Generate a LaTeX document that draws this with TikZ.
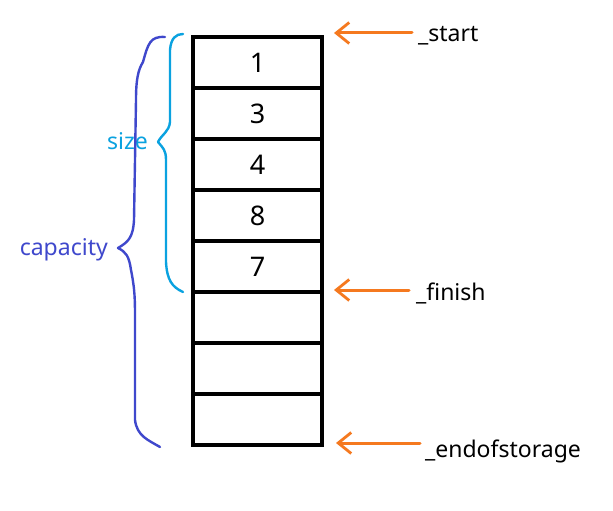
\documentclass[tikz,border=0pt]{standalone}
\usepackage{fontspec}
\setmainfont{Noto Sans}
\usetikzlibrary{arrows.meta}
\definecolor{arrorange}{HTML}{F5791F}
\definecolor{sizeblue}{HTML}{0AA2E0}
\definecolor{capblue}{HTML}{3F48CC}
\begin{document}
\begin{tikzpicture}[x=1pt,y=-1pt,
  cellbox/.style={draw=black,line width=4pt,minimum width=129pt,minimum height=51pt,inner sep=0pt,outer sep=0pt,anchor=north west,font=\fontsize{27}{30}\selectfont},
  ptrarrow/.style={draw=arrorange,line width=3pt,line cap=round,-{Straight Barb[length=13pt,width=21pt,line width=2.8pt]}},
  ptrlabel/.style={anchor=west,inner sep=0pt,font=\fontsize{23}{26}\selectfont},
  bracelabel/.style={anchor=east,inner sep=0pt,font=\fontsize{23}{26}\selectfont}]
\useasboundingbox (0,0) rectangle (613,511);
\fill[white] (0,0) rectangle (613,511);
% cells
\node[cellbox] (c1) at (193,37) {1};
\node[cellbox] (c2) at (193,88) {3};
\node[cellbox] (c3) at (193,139) {4};
\node[cellbox] (c4) at (193,190) {8};
\node[cellbox] (c5) at (193,241) {7};
\node[cellbox] (c6) at (193,292) {};
\node[cellbox] (c7) at (193,343) {};
\node[cellbox] (c8) at (193,394) {};
% pointer labels
\node[ptrlabel] (ls) at (418,36) {\_start};
\node[ptrlabel] (lf) at (416,293) {\_finish};
\node[ptrlabel] (le) at (425,451) {\_endofstorage};
\coordinate (ts) at (334,33);
\coordinate (tf) at (334,290);
\coordinate (te) at (336,443);
\draw[ptrarrow] (ls.west |- ts) ++(-6,0) -- (ts);
\draw[ptrarrow] (lf.west |- tf) ++(-7,0) -- (tf);
\draw[ptrarrow] (le.west |- te) ++(-5,0) -- (te);
% size brace
\draw[sizeblue,line width=2.4pt,line cap=round,line join=round]
  (183,34) .. controls (176,34) and (171,38) .. (170,50)
  -- (170,122) .. controls (169,132) and (162,134) .. (158,142)
  .. controls (163,148) and (166,150) .. (166,160)
  -- (166,262) .. controls (167,280) and (172,287) .. (183,292);
\node[bracelabel,text=sizeblue] (ls2) at (148,141) {size};
% capacity brace
\draw[capblue,line width=2.4pt,line cap=round,line join=round]
  (165,37) .. controls (150,36) and (148,44) .. (143,62)
  .. controls (138,70) and (136,80) .. (136,100)
  -- (134,220) .. controls (133,238) and (128,242) .. (118,248)
  .. controls (126,252) and (129,256) .. (131,270)
  .. controls (135,290) and (135,300) .. (135,320)
  -- (135,420) .. controls (137,436) and (148,440) .. (160,447);
\node[bracelabel,text=capblue] (lc) at (108,250) {capacity};
\end{tikzpicture}
\end{document}
